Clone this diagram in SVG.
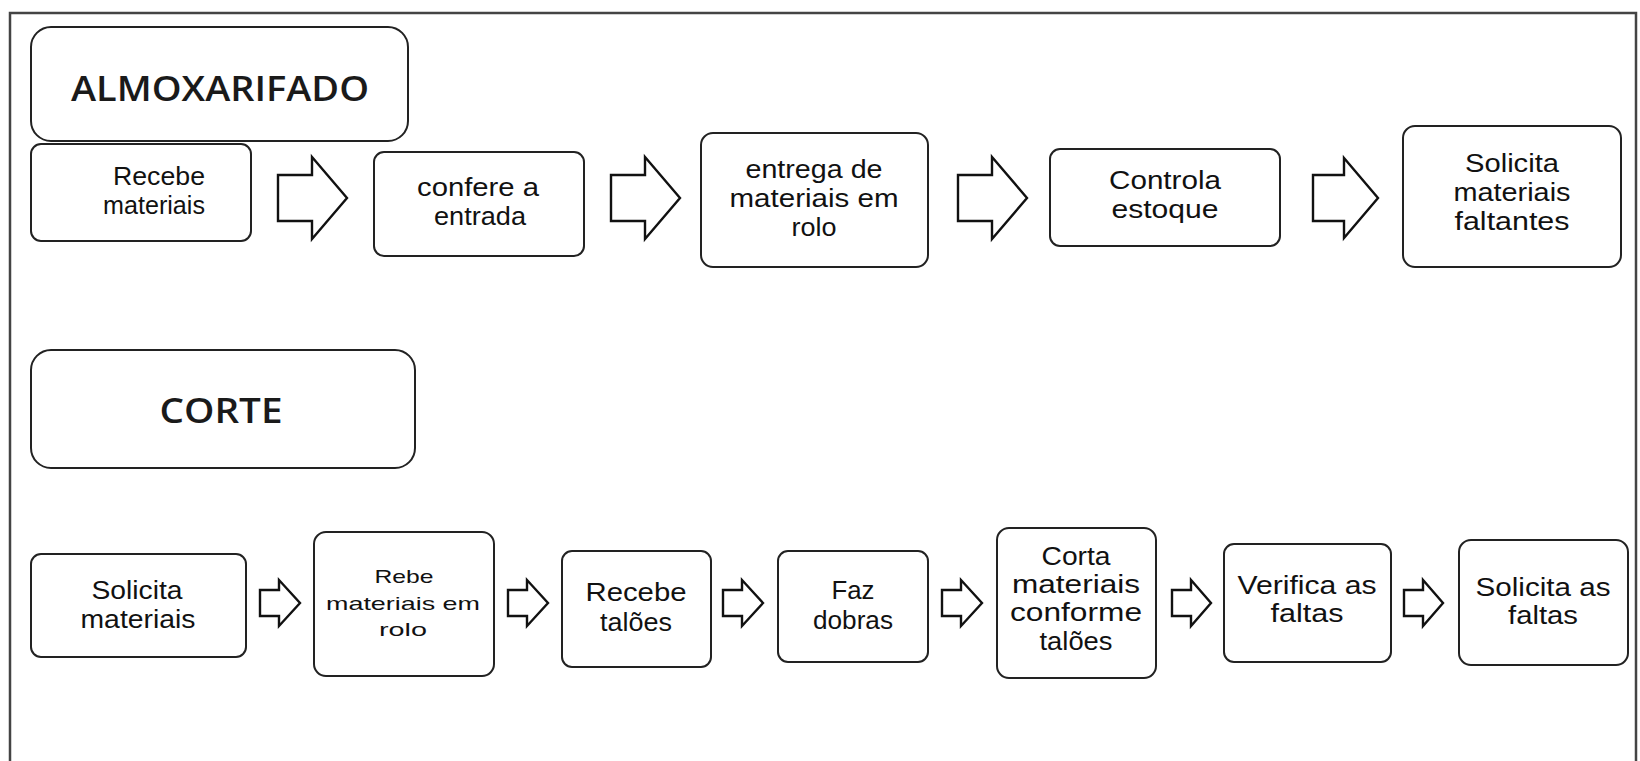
<svg xmlns="http://www.w3.org/2000/svg" width="1640" height="761" viewBox="0 0 1640 761">
<style>
.box{fill:#fff;stroke:#222;stroke-width:2}
.arr{fill:#fff;stroke:#111;stroke-width:2.4;stroke-linejoin:miter}
.t{font-family:"Liberation Sans",Arial,sans-serif;font-size:26px;fill:#111;text-anchor:middle}
.ts{font-family:"Liberation Sans",Arial,sans-serif;font-size:19px;fill:#111;text-anchor:middle}
.h{font-family:"Open Sans","Liberation Sans",sans-serif;font-size:34px;font-weight:600;fill:#1a1a1a;text-anchor:middle}
</style>
<rect width="1640" height="761" fill="#fff"/>
<path d="M10,770 V13 H1636 V770" fill="none" stroke="#444" stroke-width="2.5"/>

<g id="almoxarifado">
<rect class="box" x="31" y="27" width="377" height="114" rx="20"/>
<text class="h" x="220" y="101" textLength="298" lengthAdjust="spacingAndGlyphs">ALMOXARIFADO</text>
</g>
<g id="a1">
<rect class="box" x="31" y="144" width="220" height="97" rx="10"/>
<text class="t" x="159" y="185" textLength="92" lengthAdjust="spacingAndGlyphs">Recebe</text>
<text class="t" x="154" y="214" textLength="102" lengthAdjust="spacingAndGlyphs">materiais</text>
</g>
<g id="a2">
<rect class="box" x="374" y="152" width="210" height="104" rx="10"/>
<text class="t" x="478" y="196" textLength="122" lengthAdjust="spacingAndGlyphs">confere a</text>
<text class="t" x="480" y="225" textLength="92" lengthAdjust="spacingAndGlyphs">entrada</text>
</g>
<g id="a3">
<rect class="box" x="701" y="133" width="227" height="134" rx="12"/>
<text class="t" x="814" y="178" textLength="137" lengthAdjust="spacingAndGlyphs">entrega de</text>
<text class="t" x="814" y="207" textLength="169" lengthAdjust="spacingAndGlyphs">materiais em</text>
<text class="t" x="814" y="236" textLength="45" lengthAdjust="spacingAndGlyphs">rolo</text>
</g>
<g id="a4">
<rect class="box" x="1050" y="149" width="230" height="97" rx="10"/>
<text class="t" x="1165" y="189" textLength="112" lengthAdjust="spacingAndGlyphs">Controla</text>
<text class="t" x="1165" y="218" textLength="107" lengthAdjust="spacingAndGlyphs">estoque</text>
</g>
<g id="a5">
<rect class="box" x="1403" y="126" width="218" height="141" rx="12"/>
<text class="t" x="1512" y="172" textLength="94" lengthAdjust="spacingAndGlyphs">Solicita</text>
<text class="t" x="1512" y="201" textLength="117" lengthAdjust="spacingAndGlyphs">materiais</text>
<text class="t" x="1512" y="230" textLength="115" lengthAdjust="spacingAndGlyphs">faltantes</text>
</g>

<g id="corte">
<rect class="box" x="31" y="350" width="384" height="118" rx="20"/>
<text class="h" x="221" y="423" textLength="123" lengthAdjust="spacingAndGlyphs">CORTE</text>
</g>
<g id="c1">
<rect class="box" x="31" y="554" width="215" height="103" rx="10"/>
<text class="t" x="137" y="599" textLength="91" lengthAdjust="spacingAndGlyphs">Solicita</text>
<text class="t" x="138" y="628" textLength="115" lengthAdjust="spacingAndGlyphs">materiais</text>
</g>
<g id="c2">
<rect class="box" x="314" y="532" width="180" height="144" rx="12"/>
<text class="ts" x="404" y="583" textLength="59" lengthAdjust="spacingAndGlyphs">Rebe</text>
<text class="ts" x="403" y="610" textLength="154" lengthAdjust="spacingAndGlyphs">materiais em</text>
<text class="ts" x="403" y="636" textLength="48" lengthAdjust="spacingAndGlyphs">rolo</text>
</g>
<g id="c3">
<rect class="box" x="562" y="551" width="149" height="116" rx="10"/>
<text class="t" x="636" y="601" textLength="101" lengthAdjust="spacingAndGlyphs">Recebe</text>
<text class="t" x="636" y="631" textLength="72" lengthAdjust="spacingAndGlyphs">talões</text>
</g>
<g id="c4">
<rect class="box" x="778" y="551" width="150" height="111" rx="10"/>
<text class="t" x="853" y="599" textLength="43" lengthAdjust="spacingAndGlyphs">Faz</text>
<text class="t" x="853" y="629" textLength="80" lengthAdjust="spacingAndGlyphs">dobras</text>
</g>
<g id="c5">
<rect class="box" x="997" y="528" width="159" height="150" rx="12"/>
<text class="t" x="1076" y="565" textLength="69" lengthAdjust="spacingAndGlyphs">Corta</text>
<text class="t" x="1076" y="593" textLength="128" lengthAdjust="spacingAndGlyphs">materiais</text>
<text class="t" x="1076" y="621" textLength="132" lengthAdjust="spacingAndGlyphs">conforme</text>
<text class="t" x="1076" y="650" textLength="73" lengthAdjust="spacingAndGlyphs">talões</text>
</g>
<g id="c6">
<rect class="box" x="1224" y="544" width="167" height="118" rx="10"/>
<text class="t" x="1307" y="594" textLength="139" lengthAdjust="spacingAndGlyphs">Verifica as</text>
<text class="t" x="1307" y="622" textLength="73" lengthAdjust="spacingAndGlyphs">faltas</text>
</g>
<g id="c7">
<rect class="box" x="1459" y="540" width="169" height="125" rx="12"/>
<text class="t" x="1543" y="596" textLength="135" lengthAdjust="spacingAndGlyphs">Solicita as</text>
<text class="t" x="1543" y="624" textLength="70" lengthAdjust="spacingAndGlyphs">faltas</text>
</g>

<g id="connectors">
<polygon class="arr" points="278,175 312,175 312,157 347,198 312,239 312,221 278,221"/>
<polygon class="arr" points="611,175 645,175 645,157 680,198 645,239 645,221 611,221"/>
<polygon class="arr" points="958,175 992,175 992,157 1027,198 992,239 992,221 958,221"/>
<polygon class="arr" points="1313,175 1344,175 1344,158 1378,198 1344,238 1344,221 1313,221"/>

<polygon class="arr" points="260,590 279,590 279,580 300,603 279,626 279,616 260,616"/>
<polygon class="arr" points="508,590 527,590 527,580 548,603 527,626 527,616 508,616"/>
<polygon class="arr" points="723,590 742,590 742,580 763,603 742,626 742,616 723,616"/>
<polygon class="arr" points="942,590 961,590 961,580 982,603 961,626 961,616 942,616"/>
<polygon class="arr" points="1172,590 1191,590 1191,580 1211,603 1191,626 1191,616 1172,616"/>
<polygon class="arr" points="1404,590 1423,590 1423,580 1443,603 1423,626 1423,616 1404,616"/>
</g>
</svg>
